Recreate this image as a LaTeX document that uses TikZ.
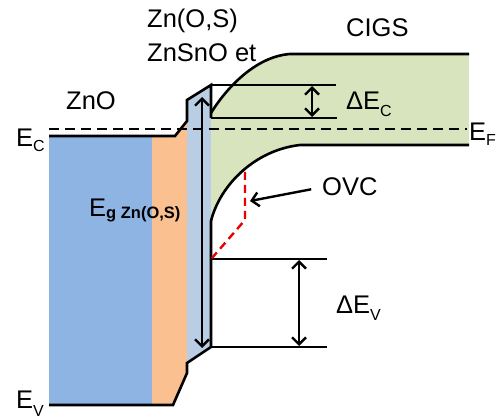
\documentclass[tikz,border=0pt]{standalone}
\usepackage{fontspec}
\setmainfont{Liberation Sans}
\usetikzlibrary{arrows.meta}
\definecolor{znoBlue}{HTML}{8EB4E3}
\definecolor{bufOrange}{HTML}{FAC090}
\definecolor{znosBlue}{HTML}{B9CDE5}
\definecolor{cigsGreen}{HTML}{D7E4BD}
\definecolor{ovcRed}{RGB}{235,0,0}
\newcommand{\lowsub}[2][-6pt]{\raisebox{#1}{\fontsize{16}{16}\selectfont #2}}

\begin{document}
\begin{tikzpicture}[
    x=1pt, y=-1pt,
    every node/.style={font=\fontsize{25.5}{30}\selectfont, inner sep=0pt},
    txt/.style={anchor=base west},
    band/.style={line width=2.6pt, line join=miter},
    level/.style={line width=2.4pt},
    fermi/.style={line width=2.4pt, dash pattern=on 10pt off 6pt},
    ovcline/.style={draw=ovcRed, line width=2.4pt, dash pattern=on 8pt off 5pt},
    arrow/.style={{Straight Barb[length=7pt,width=14pt]}-{Straight Barb[length=7pt,width=14pt]}, line width=2.4pt},
    pointer/.style={-{Straight Barb[length=7pt,width=14pt]}, line width=2.4pt}
]
\useasboundingbox (0,0) rectangle (497,419);
\fill[znoBlue] (49,136) rectangle (152,405);
\fill[bufOrange] (152,136) -- (175,136) -- (187,121) -- (187,373) -- (173,405) -- (152,405) -- cycle;
\fill[znosBlue] (187,100) -- (211,85) -- (211,347) -- (187,363) -- cycle;
\fill[cigsGreen] (211,113) .. controls (220,98) and (250,57) .. (290,54) -- (469,54) -- (469,145)
  -- (300,145) .. controls (255,150) and (220,185) .. (211,221) -- cycle;
\coordinate (efL) at (49,129);
\coordinate (efR) at (467,129);
\draw[fermi] (efL) -- (efR);
\draw[band] (49,136) -- (175,136) -- (187,121) -- (187,100) -- (211,85) -- (211,118);
\draw[band] (211,221) -- (211,347) -- (187,363) -- (187,373) -- (173,405) -- (49,405);
\draw[band] (211,113) .. controls (220,98) and (250,57) .. (290,54) -- (469,54);
\draw[band] (211,221) .. controls (220,185) and (255,150) .. (300,145) -- (469,145);
\draw[level] (211,85) -- (336,85);
\draw[level] (211,118) -- (337,118);
\draw[level] (211,259) -- (327,259);
\draw[level] (211,347) -- (327,347);
\draw[ovcline] (245,172) -- (245,220) -- (212,258);
\coordinate (egTop) at (202,97);
\coordinate (egBot) at (202,348);
\coordinate (dcTop) at (312,86);
\coordinate (dcBot) at (312,117);
\coordinate (dvTop) at (299,260);
\coordinate (dvBot) at (299,346);
\coordinate (ovcTip) at (250,201);
\draw[arrow] (egTop) -- (egBot);
\draw[arrow] (dcTop) -- (dcBot);
\draw[arrow] (dvTop) -- (dvBot);
\node[txt] (znos) at (147,28) {Zn(O,S)};
\node[txt] (znsno) at (147,62) {ZnSnO et};
\node[txt] (cigs) at (346,37) {CIGS};
\node[txt] (zno) at (66,110) {ZnO};
\node[txt] (ec) at (16,147) {E\lowsub[-5pt]{C}};
\node[txt] (ef) at (469,141) {E\lowsub[-5pt]{F}};
\node[txt] (ev) at (16,408) {E\lowsub[-8pt]{V}};
\node[txt] (dec) at (346,110) {ΔE\lowsub[-7pt]{C}};
\node[txt] (dev) at (336,313) {ΔE\lowsub[-7pt]{V}};
\node[txt] (ovc) at (322,196) {OVC};
\node[txt] (eg) at (89,217) {E\raisebox{-2pt}{\fontsize{16.5}{16.5}\selectfont\bfseries g Zn(O,S)}};
\draw[pointer, shorten <=11pt] (ovc.west) -- (ovcTip);
\end{tikzpicture}
\end{document}
